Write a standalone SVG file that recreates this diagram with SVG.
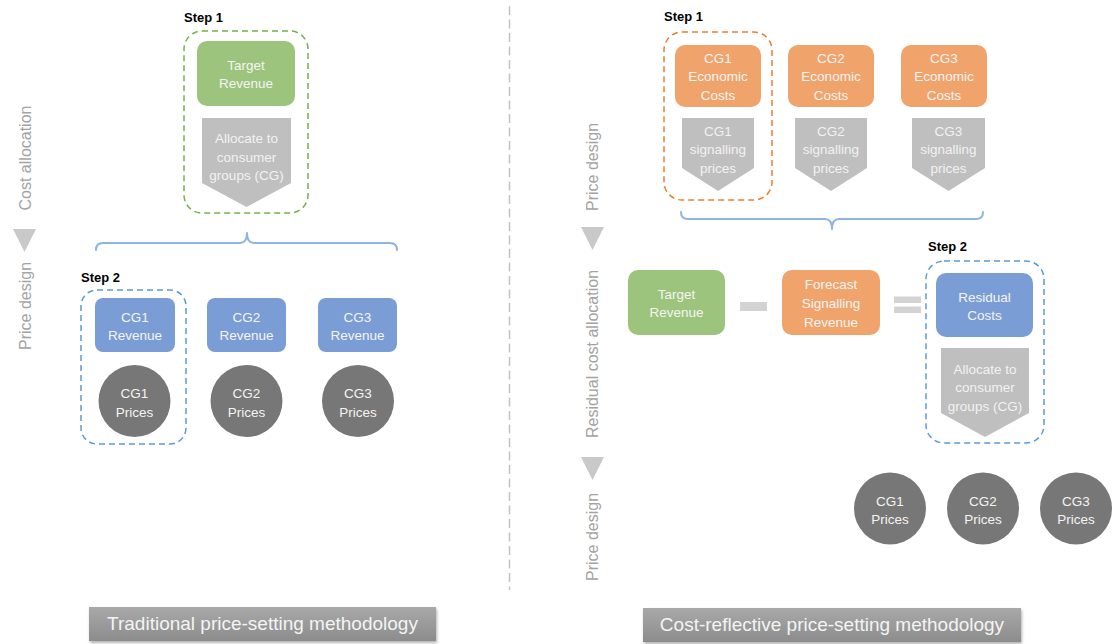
<svg xmlns="http://www.w3.org/2000/svg" width="1112" height="644" viewBox="0 0 1112 644">
  <style>
    .lbl { font-family: "Liberation Sans", Arial, sans-serif; font-size: 13.5px; fill: #f4f4f4; text-anchor: middle; }
    .lbl-faint { font-family: "Liberation Sans", Arial, sans-serif; font-size: 13.5px; fill: #f2f2f2; text-anchor: middle; }
    .step { font-family: "Liberation Sans", Arial, sans-serif; font-size: 13px; font-weight: bold; fill: #000; }
    .phase { font-family: "Liberation Sans", Arial, sans-serif; font-size: 16px; fill: #a3a3a3; text-anchor: middle; }
    .title { font-family: "Liberation Sans", Arial, sans-serif; font-size: 19px; fill: #f4f4f4; text-anchor: middle; }
    .green { fill: #9dc47d; }
    .orange { fill: #f0a36b; }
    .blue { fill: #7b9dd5; }
    .arrow { fill: #bfbfbf; }
    .price { fill: #777777; }
    .tri { fill: #c9c9c9; }
    .op { fill: #d3d3d3; }
    .dash { fill: none; stroke-width: 1.5; stroke-dasharray: 6 4; }
    .brace { fill: none; stroke: #8fb4e0; stroke-width: 2; stroke-linecap: round; stroke-linejoin: round; }
    .banner { fill: url(#bannerGrad); filter: url(#shadow); }
  </style>
  <defs>
    <linearGradient id="bannerGrad" x1="0" y1="0" x2="0" y2="1">
      <stop offset="0" stop-color="#a9a9a9"/>
      <stop offset="1" stop-color="#8c8c8c"/>
    </linearGradient>
    <filter id="shadow" x="-5%" y="-20%" width="110%" height="160%">
      <feDropShadow dx="1" dy="2" stdDeviation="1.5" flood-color="#000" flood-opacity="0.3"/>
    </filter>
  </defs>

  <rect width="1112" height="644" fill="#ffffff"/>

  <!-- divider between the two methodologies -->
  <line x1="509.5" y1="6" x2="509.5" y2="590" stroke="#c2c2c2" stroke-width="1.5" stroke-dasharray="9 4.5"/>

  <!-- ===== Traditional methodology ===== -->
  <g id="phase-left">
    <text class="phase" transform="translate(31,158) rotate(-90)">Cost allocation</text>
    <path class="tri" d="M13,229 H36 L24.5,252 Z"/>
    <text class="phase" transform="translate(31,306) rotate(-90)">Price design</text>
  </g>

  <g id="trad-step1">
    <text class="step" x="184" y="22">Step 1</text>
    <rect class="dash" x="184" y="31" width="124" height="182" rx="18" stroke="#74b24c"/>
  </g>
  <g id="trad-target-revenue">
    <rect class="green" x="197" y="41" width="98" height="65" rx="10"/>
    <text class="lbl" x="246" y="70">Target</text>
    <text class="lbl" x="246" y="88">Revenue</text>
  </g>
  <g id="trad-allocate">
    <path class="arrow" d="M202,118 H291 V183 L246.5,207 L202,183 Z"/>
    <text class="lbl-faint" x="246.5" y="143">Allocate to</text>
    <text class="lbl-faint" x="246.5" y="162">consumer</text>
    <text class="lbl-faint" x="246.5" y="180">groups (CG)</text>
  </g>

  <g id="trad-step2">
    <text class="step" x="81" y="282">Step 2</text>
    <rect class="dash" x="81" y="290" width="105" height="154" rx="16" stroke="#5b9bd5"/>
  </g>
  <g id="trad-cg1-revenue">
    <rect class="blue" x="95" y="298" width="80" height="54" rx="8"/>
    <text class="lbl" x="135" y="322">CG1</text>
    <text class="lbl" x="135" y="340">Revenue</text>
  </g>
  <g id="trad-cg2-revenue">
    <rect class="blue" x="207" y="298" width="79" height="54" rx="8"/>
    <text class="lbl" x="246.5" y="322">CG2</text>
    <text class="lbl" x="246.5" y="340">Revenue</text>
  </g>
  <g id="trad-cg3-revenue">
    <rect class="blue" x="318" y="298" width="79" height="54" rx="8"/>
    <text class="lbl" x="357.5" y="322">CG3</text>
    <text class="lbl" x="357.5" y="340">Revenue</text>
  </g>
  <g id="trad-cg1-prices">
    <circle class="price" cx="134.5" cy="401" r="36"/>
    <text class="lbl" x="134.5" y="398">CG1</text>
    <text class="lbl" x="134.5" y="417">Prices</text>
  </g>
  <g id="trad-cg2-prices">
    <circle class="price" cx="246.5" cy="401" r="36"/>
    <text class="lbl" x="246.5" y="398">CG2</text>
    <text class="lbl" x="246.5" y="417">Prices</text>
  </g>
  <g id="trad-cg3-prices">
    <circle class="price" cx="358" cy="401" r="36"/>
    <text class="lbl" x="358" y="398">CG3</text>
    <text class="lbl" x="358" y="417">Prices</text>
  </g>

  <g id="trad-title">
    <rect class="banner" x="89" y="607" width="347" height="34"/>
    <text class="title" x="262.5" y="630">Traditional price-setting methodology</text>
  </g>

  <!-- ===== Cost-reflective methodology ===== -->
  <g id="phase-right">
    <text class="phase" transform="translate(598,167) rotate(-90)">Price design</text>
    <path class="tri" d="M581,227 H604 L592.5,250 Z"/>
    <text class="phase" transform="translate(598,354) rotate(-90)">Residual cost allocation</text>
    <path class="tri" d="M581,457 H604 L592.5,480 Z"/>
    <text class="phase" transform="translate(598,537) rotate(-90)">Price design</text>
  </g>

  <g id="cr-step1">
    <text class="step" x="664" y="21">Step 1</text>
    <rect class="dash" x="664" y="32" width="108" height="168" rx="18" stroke="#ed7d31"/>
  </g>
  <g id="cr-cg1-costs">
    <rect class="orange" x="675" y="45" width="86" height="62" rx="10"/>
    <text class="lbl" x="718" y="63">CG1</text>
    <text class="lbl" x="718" y="81">Economic</text>
    <text class="lbl" x="718" y="100">Costs</text>
  </g>
  <g id="cr-cg2-costs">
    <rect class="orange" x="788" y="45" width="86" height="62" rx="10"/>
    <text class="lbl" x="831" y="63">CG2</text>
    <text class="lbl" x="831" y="81">Economic</text>
    <text class="lbl" x="831" y="100">Costs</text>
  </g>
  <g id="cr-cg3-costs">
    <rect class="orange" x="901" y="45" width="86" height="62" rx="10"/>
    <text class="lbl" x="944" y="63">CG3</text>
    <text class="lbl" x="944" y="81">Economic</text>
    <text class="lbl" x="944" y="100">Costs</text>
  </g>
  <g id="cr-cg1-signal">
    <path class="arrow" d="M682,118 H754 V168 L718,191 L682,168 Z"/>
    <text class="lbl-faint" x="718" y="136">CG1</text>
    <text class="lbl-faint" x="718" y="154">signalling</text>
    <text class="lbl-faint" x="718" y="173">prices</text>
  </g>
  <g id="cr-cg2-signal">
    <path class="arrow" d="M795,118 H867 V168 L831,191 L795,168 Z"/>
    <text class="lbl-faint" x="831" y="136">CG2</text>
    <text class="lbl-faint" x="831" y="154">signalling</text>
    <text class="lbl-faint" x="831" y="173">prices</text>
  </g>
  <g id="cr-cg3-signal">
    <path class="arrow" d="M912,118 H985 V168 L948.5,191 L912,168 Z"/>
    <text class="lbl-faint" x="948.5" y="136">CG3</text>
    <text class="lbl-faint" x="948.5" y="154">signalling</text>
    <text class="lbl-faint" x="948.5" y="173">prices</text>
  </g>

  <g id="cr-target-revenue">
    <rect class="green" x="628" y="270" width="97" height="65" rx="10"/>
    <text class="lbl" x="676.5" y="299">Target</text>
    <text class="lbl" x="676.5" y="317">Revenue</text>
  </g>
  <g id="cr-minus">
    <rect class="op" x="740" y="302" width="27" height="9"/>
  </g>
  <g id="cr-forecast">
    <rect class="orange" x="782" y="270" width="98" height="65" rx="10"/>
    <text class="lbl" x="831" y="289">Forecast</text>
    <text class="lbl" x="831" y="308">Signalling</text>
    <text class="lbl" x="831" y="327">Revenue</text>
  </g>
  <g id="cr-equals">
    <rect class="op" x="894" y="296.5" width="27" height="6.5"/>
    <rect class="op" x="894" y="306.5" width="27" height="6.5"/>
  </g>

  <g id="cr-step2">
    <text class="step" x="928" y="251">Step 2</text>
    <rect class="dash" x="926" y="261" width="118" height="182" rx="18" stroke="#5b9bd5"/>
  </g>
  <g id="cr-residual">
    <rect class="blue" x="936" y="273" width="97" height="64" rx="10"/>
    <text class="lbl" x="984.5" y="302">Residual</text>
    <text class="lbl" x="984.5" y="320">Costs</text>
  </g>
  <g id="cr-allocate">
    <path class="arrow" d="M941,348 H1029 V413 L985,437 L941,413 Z"/>
    <text class="lbl-faint" x="985" y="374">Allocate to</text>
    <text class="lbl-faint" x="985" y="392">consumer</text>
    <text class="lbl-faint" x="985" y="411">groups (CG)</text>
  </g>

  <g id="cr-cg1-prices">
    <circle class="price" cx="890" cy="508.5" r="36"/>
    <text class="lbl" x="890" y="505.5">CG1</text>
    <text class="lbl" x="890" y="524">Prices</text>
  </g>
  <g id="cr-cg2-prices">
    <circle class="price" cx="983" cy="508.5" r="36"/>
    <text class="lbl" x="983" y="505.5">CG2</text>
    <text class="lbl" x="983" y="524">Prices</text>
  </g>
  <g id="cr-cg3-prices">
    <circle class="price" cx="1076" cy="508.5" r="36"/>
    <text class="lbl" x="1076" y="505.5">CG3</text>
    <text class="lbl" x="1076" y="524">Prices</text>
  </g>

  <g id="cr-title">
    <rect class="banner" x="643" y="608" width="378" height="34"/>
    <text class="title" x="832" y="631">Cost-reflective price-setting methodology</text>
  </g>

  <!-- braces grouping the per-group items -->
  <g id="connectors">
    <path class="brace" d="M96,250 Q96,243 103,243 L240,243 Q247,243 247,233 Q247,243 254,243 L390,243 Q397,243 397,250"/>
    <path class="brace" d="M681,212 Q681,219 688,219 L825,219 Q832,219 832,229 Q832,219 839,219 L976,219 Q983,219 983,212"/>
  </g>
</svg>
